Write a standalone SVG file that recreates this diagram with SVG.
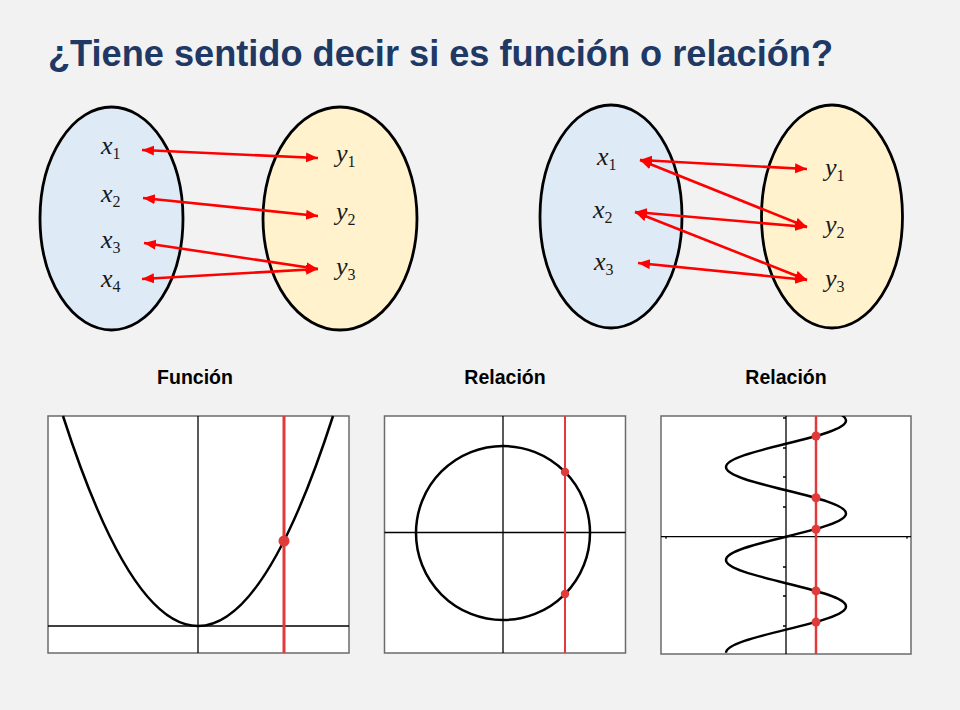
<svg xmlns="http://www.w3.org/2000/svg" width="960" height="710" viewBox="0 0 960 710">
<style>
.title{font-family:"Liberation Sans",Arial,sans-serif;font-weight:bold;font-size:36px;fill:#203864}
.cap{font-family:"Liberation Sans",Arial,sans-serif;font-weight:bold;font-size:19.5px;fill:#000;text-anchor:middle}
.var{font-family:"Liberation Serif","Times New Roman",serif;font-style:italic;font-size:26px;fill:#1a1a1a}
.sub{font-style:normal;font-size:16px}
.setx{fill:#DEEBF7;stroke:#000;stroke-width:2.8}
.sety{fill:#FFF2CC;stroke:#000;stroke-width:2.8}
.arr{stroke:#FF0000;stroke-width:2.6;fill:none;marker-start:url(#ah);marker-end:url(#ah)}
.box{fill:#fff;stroke:#6b6b6b;stroke-width:1.5}
.axis{stroke:#000;stroke-width:1.3;fill:none}
.curve{stroke:#000;stroke-width:2.5;fill:none}
.vl{stroke:#E03A3A;fill:none}
.dot{fill:#E03A3A}
</style>
<defs>
<marker id="ah" markerUnits="userSpaceOnUse" markerWidth="13" markerHeight="11" refX="12" refY="5" orient="auto-start-reverse">
<path d="M0,0 L12,5 L0,10 z" fill="#FF0000"/>
</marker>
<clipPath id="clip3"><rect x="661" y="416" width="250" height="238"/></clipPath>
</defs>
<rect x="0" y="0" width="960" height="710" fill="#F2F2F2"/>
<g id="title"><text class="title" x="48" y="66" textLength="785" lengthAdjust="spacingAndGlyphs">¿Tiene sentido decir si es función o relación?</text></g>

<g id="set1-domain">
<ellipse class="setx" cx="111.5" cy="218.5" rx="71.5" ry="111.5"/>
<text class="var" x="101" y="154">x<tspan class="sub" dy="5">1</tspan></text>
<text class="var" x="101" y="202">x<tspan class="sub" dy="5">2</tspan></text>
<text class="var" x="101" y="248">x<tspan class="sub" dy="5">3</tspan></text>
<text class="var" x="101" y="287">x<tspan class="sub" dy="5">4</tspan></text>
</g>
<g id="set1-codomain">
<ellipse class="sety" cx="340" cy="218.5" rx="77" ry="111.5"/>
<text class="var" x="336" y="162">y<tspan class="sub" dy="5">1</tspan></text>
<text class="var" x="336" y="220">y<tspan class="sub" dy="5">2</tspan></text>
<text class="var" x="336" y="275">y<tspan class="sub" dy="5">3</tspan></text>
</g>

<g id="set2-domain">
<ellipse class="setx" cx="611" cy="216.5" rx="71" ry="111.5"/>
<text class="var" x="597" y="165">x<tspan class="sub" dy="5">1</tspan></text>
<text class="var" x="593" y="218">x<tspan class="sub" dy="5">2</tspan></text>
<text class="var" x="594" y="270">x<tspan class="sub" dy="5">3</tspan></text>
</g>
<g id="set2-codomain">
<ellipse class="sety" cx="832" cy="216.5" rx="70.5" ry="111.5"/>
<text class="var" x="825" y="176">y<tspan class="sub" dy="5">1</tspan></text>
<text class="var" x="825" y="233">y<tspan class="sub" dy="5">2</tspan></text>
<text class="var" x="825" y="287">y<tspan class="sub" dy="5">3</tspan></text>
</g>

<g id="connectors">
<line class="arr" x1="142" y1="150" x2="318" y2="158"/>
<line class="arr" x1="143" y1="198" x2="318" y2="216"/>
<line class="arr" x1="144" y1="243" x2="318" y2="269"/>
<line class="arr" x1="142" y1="279" x2="318" y2="269"/>
<line class="arr" x1="640" y1="160" x2="807" y2="169"/>
<line class="arr" x1="640" y1="160" x2="807" y2="227"/>
<line class="arr" x1="635" y1="212" x2="807" y2="227"/>
<line class="arr" x1="635" y1="212" x2="807" y2="280"/>
<line class="arr" x1="638" y1="263" x2="807" y2="280"/>
</g>

<g id="plot-funcion">
<text class="cap" x="195" y="384">Función</text>
<rect class="box" x="48" y="416" width="301" height="237"/>
<line class="axis" x1="198" y1="416" x2="198" y2="653"/>
<line class="axis" x1="48" y1="626" x2="349" y2="626"/>
<path class="curve" d="M63,416 Q198,836 333,416"/>
<line class="vl" x1="284" y1="416" x2="284" y2="653" stroke-width="3"/>
<circle class="dot" cx="284" cy="541" r="5.5"/>
</g>

<g id="plot-circulo">
<text class="cap" x="505" y="384">Relación</text>
<rect class="box" x="384.5" y="416" width="241" height="237"/>
<line class="axis" x1="503" y1="416" x2="503" y2="653"/>
<line class="axis" x1="384.5" y1="532.5" x2="625.5" y2="532.5"/>
<circle class="curve" cx="503" cy="533" r="87"/>
<line class="vl" x1="565" y1="416" x2="565" y2="653" stroke-width="2"/>
<circle class="dot" cx="565" cy="472" r="4.2"/>
<circle class="dot" cx="565" cy="594" r="4.2"/>
</g>

<g id="plot-seno">
<text class="cap" x="786" y="384">Relación</text>
<rect class="box" x="661" y="416" width="250" height="238"/>
<line class="axis" x1="786" y1="416" x2="786" y2="654"/>
<line class="axis" x1="661" y1="536.7" x2="911" y2="536.7"/>
<g class="axis" stroke-width="1">
<path d="M783,418h3M783,448h3M783,477h3M783,507h3M783,567h3M783,596h3M783,626h3M666,536.7v2M907,536.7v2"/>
</g>
<path class="curve" clip-path="url(#clip3)" d="M726,374.15
c0,8.406 29.26,15.651 60,23.225 c30.74,7.574 60,14.819 60,23.225 c0,8.406 -29.26,15.651 -60,23.225 c-30.74,7.574 -60,14.819 -60,23.225
c0,8.406 29.26,15.651 60,23.225 c30.74,7.574 60,14.819 60,23.225 c0,8.406 -29.26,15.651 -60,23.225 c-30.74,7.574 -60,14.819 -60,23.225
c0,8.406 29.26,15.651 60,23.225 c30.74,7.574 60,14.819 60,23.225 c0,8.406 -29.26,15.651 -60,23.225 c-30.74,7.574 -60,14.819 -60,23.225"/>
<line class="vl" x1="816" y1="416" x2="816" y2="654" stroke-width="2.5"/>
<circle class="dot" cx="816" cy="436" r="4.5"/>
<circle class="dot" cx="816" cy="497.7" r="4.5"/>
<circle class="dot" cx="816" cy="529.2" r="4.5"/>
<circle class="dot" cx="816" cy="590.9" r="4.5"/>
<circle class="dot" cx="816" cy="622.1" r="4.5"/>
</g>
</svg>
